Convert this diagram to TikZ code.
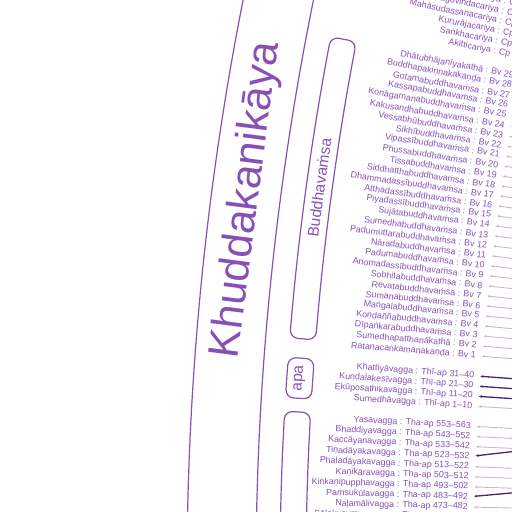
\documentclass[tikz,border=0pt]{standalone}
\usepackage{fontspec}
\setmainfont{Liberation Sans}
\usetikzlibrary{arrows.meta}
\definecolor{kpurple}{RGB}{134,80,182}
\definecolor{klight}{RGB}{205,178,228}
\definecolor{kdark}{RGB}{78,30,118}
\begin{document}
\begin{tikzpicture}[x=1pt,y=1pt,
  lbl/.style={text=kpurple,inner sep=0pt,anchor=east,font=\fontsize{8.9}{10}\selectfont},
  head/.style={text=kpurple,inner sep=0pt,font=\fontsize{15.5}{16}\selectfont},
  ring/.style={draw=kpurple,line width=1.2pt},
  sect/.style={draw=kpurple,line width=1.2pt,rounded corners=8pt},
  lite/.style={draw=klight,line width=0.9pt,{Stealth[length=3pt,width=2.6pt]}-,shorten <=6pt},
  deep/.style={draw=kdark,line width=1.3pt,{Stealth[length=3pt,width=2.6pt]}-,shorten <=6pt}]
\useasboundingbox (-3139,61) rectangle (-2627,573);
\clip (-3139,61) rectangle (-2627,573);
% circle centre is the origin, far to the right
\draw[ring] (181:2952) arc[start angle=181,end angle=166,radius=2952];
\draw[ring] (181:2883) arc[start angle=181,end angle=166,radius=2883];
\node[text=kpurple,inner sep=0pt,font=\fontsize{43}{43}\selectfont,rotate=82.65] (khud) at (172.65:2916) {Khuddakanikāya};
% Buddhavamsa
\draw[sect] (175.28:2833) arc[start angle=175.28,end angle=169.19,radius=2833]
  -- (169.19:2859) arc[start angle=169.19,end angle=175.28,radius=2859] -- cycle;
\node[head,rotate=82.22] (bvsa) at (172.22:2846) {Buddhavaṁsa};
% Theri-apadana
\draw[sect] (176.48:2833) arc[start angle=176.48,end angle=175.67,radius=2833]
  -- (175.67:2859) arc[start angle=175.67,end angle=176.48,radius=2859] -- cycle;
\node[head,rotate=86.08] (apa) at (176.08:2846) {apa};
% Thera-apadana
\draw[sect] (182:2833) arc[start angle=182,end angle=176.755,radius=2833]
  -- (176.755:2859) arc[start angle=176.755,end angle=182,radius=2859] -- cycle;
% leaves
\foreach \k/\txt/\ln/\off [count=\i] in {
  -35/Nimirājacariya : Cp 6/lite/0, -34/Mahāgovindacariya : Cp 5/lite/0,
  -33/Mahāsudassanacariya : Cp 4/lite/0, -32/Kururājacariya : Cp 3/lite/0,
  -31/Saṅkhacariya : Cp 2/lite/0, -30/Akitticariya : Cp 1/lite/0,
  -28/Dhātubhājanīyakathā : Bv 29/lite/0, -27/Buddhapakiṇṇakakaṇḍa : Bv 28/lite/0,
  -26/Gotamabuddhavaṁsa : Bv 27/lite/0, -25/Kassapabuddhavaṁsa : Bv 26/lite/0,
  -24/Konāgamanabuddhavaṁsa : Bv 25/lite/0, -23/Kakusandhabuddhavaṁsa : Bv 24/lite/0,
  -22/Vessabhūbuddhavaṁsa : Bv 23/lite/0, -21/Sikhībuddhavaṁsa : Bv 22/lite/0,
  -20/Vipassībuddhavaṁsa : Bv 21/lite/0, -19/Phussabuddhavaṁsa : Bv 20/lite/0,
  -18/Tissabuddhavaṁsa : Bv 19/lite/0, -17/Siddhatthabuddhavaṁsa : Bv 18/lite/0,
  -16/Dhammadassībuddhavaṁsa : Bv 17/lite/0, -15/Atthadassībuddhavaṁsa : Bv 16/lite/0,
  -14/Piyadassībuddhavaṁsa : Bv 15/lite/0, -13/Sujātabuddhavaṁsa : Bv 14/lite/0,
  -12/Sumedhabuddhavaṁsa : Bv 13/lite/0, -11/Padumuttarabuddhavaṁsa : Bv 12/lite/0,
  -10/Nāradabuddhavaṁsa : Bv 11/lite/0, -9/Padumabuddhavaṁsa : Bv 10/lite/0,
  -8/Anomadassībuddhavaṁsa : Bv 9/lite/0, -7/Sobhitabuddhavaṁsa : Bv 8/lite/0,
  -6/Revatabuddhavaṁsa : Bv 7/lite/0, -5/Sumanabuddhavaṁsa : Bv 6/lite/0,
  -4/Maṅgalabuddhavaṁsa : Bv 5/lite/0, -3/Koṇḍaññabuddhavaṁsa : Bv 4/lite/0,
  -2/Dīpaṅkarabuddhavaṁsa : Bv 3/lite/0, -1/Sumedhapatthanākathā : Bv 2/lite/0,
  0/Ratanacaṅkamanakaṇḍa : Bv 1/lite/0,
  2/Khattiyāvagga : Thī-ap 31–40/deep/0, 3/Kuṇḍalakesīvagga : Thī-ap 21–30/deep/0,
  4/Ekūposathikavagga : Thī-ap 11–20/deep/0, 5/Sumedhāvagga : Thī-ap 1–10/lite/0,
  7/Yasavagga : Tha-ap 553–563/lite/0, 8/Bhaddiyavagga : Tha-ap 543–552/lite/0,
  9/Kaccāyanavagga : Tha-ap 533–542/lite/0, 10/Tiṇadāyakavagga : Tha-ap 523–532/deep/-0.4,
  11/Phaladāyakavagga : Tha-ap 513–522/lite/0, 12/Kaṇikāravagga : Tha-ap 503–512/lite/0,
  13/Kiṅkaṇipupphavagga : Tha-ap 493–502/lite/0, 14/Paṁsukūlavagga : Tha-ap 483–492/deep/-0.3,
  15/Naḷamālivagga : Tha-ap 473–482/lite/0, 16/Sālakusumiyavagga : Tha-ap 463–472/lite/0}{
  \pgfmathsetmacro\d{4.665-\k*0.2165}
  \node[lbl,rotate=-\d] (row\i) at (180-\d:2672) {\txt};
  \coordinate (far\i) at (180-\d+\off:2560);
  \draw[\ln] (row\i.east) -- (far\i);
}
\end{tikzpicture}
\end{document}
